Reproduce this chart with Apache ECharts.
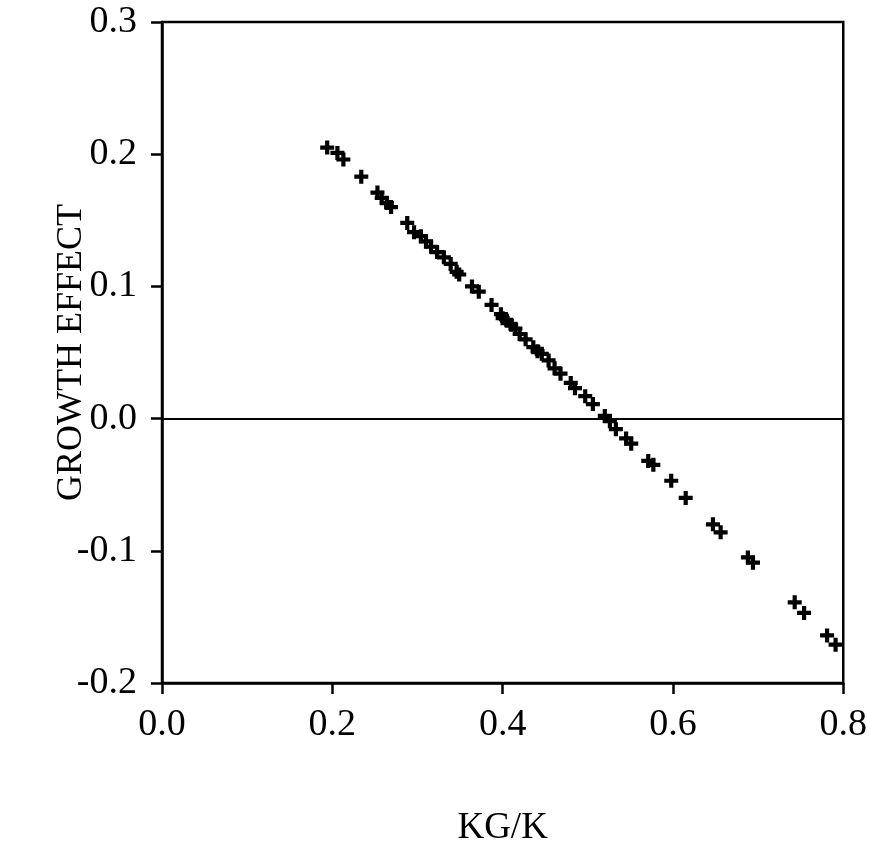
<!DOCTYPE html>
<html>
<head>
<meta charset="utf-8">
<script src="https://cdn.jsdelivr.net/npm/echarts@6/dist/echarts.min.js"></script>
<style>
html,body{margin:0;padding:0;background:#fff;}
#chart{width:870px;height:852px;}
</style>
</head>
<body>
<div id="chart"></div>
<script>
// KG/K values (x) and growth effect values (y)
var kgk = [0.194,0.206,0.213,0.234,0.253,0.258,0.264,0.269,0.288,0.296,0.304,0.310,0.316,0.323,0.331,0.339,0.346,0.349,0.364,0.372,0.387,0.398,0.400,0.405,0.410,0.415,0.420,0.427,0.436,0.441,0.446,0.454,0.461,0.468,0.480,0.485,0.497,0.506,0.520,0.526,0.533,0.545,0.551,0.571,0.577,0.598,0.615,0.647,0.656,0.688,0.694,0.743,0.754,0.781,0.791];
var growth = [0.205,0.201,0.196,0.183,0.171,0.167,0.163,0.160,0.148,0.141,0.138,0.134,0.130,0.126,0.122,0.117,0.111,0.109,0.100,0.096,0.086,0.079,0.076,0.074,0.071,0.068,0.064,0.060,0.054,0.051,0.049,0.044,0.038,0.034,0.027,0.023,0.017,0.011,0.002,-0.002,-0.008,-0.015,-0.019,-0.032,-0.035,-0.047,-0.060,-0.080,-0.086,-0.105,-0.109,-0.139,-0.147,-0.164,-0.171];
var xTicks = [0.0,0.2,0.4,0.6,0.8];
var yTicks = [-0.2,-0.1,0.0,0.1,0.2,0.3];

var points = kgk.map(function(x,i){return [x, growth[i]];});
var font = '"Liberation Serif","DejaVu Serif",serif';
var chart = echarts.init(document.getElementById('chart'), null, {renderer:'canvas'});
chart.setOption({
  animation:false,
  backgroundColor:'#fff',
  grid:{left:162,right:24,top:22,bottom:165,show:true,borderColor:'#000',borderWidth:2.5,backgroundColor:'transparent'},
  xAxis:{
    type:'value', min:xTicks[0], max:xTicks[xTicks.length-1], interval:0.2,
    name:'KG/K', nameLocation:'middle', nameGap:127, nameMoveOverlap:false,
    nameTextStyle:{fontFamily:font,fontSize:37,color:'#000'},
    axisLine:{show:true,onZero:false,lineStyle:{color:'#000',width:2.5}},
    axisTick:{show:true,inside:false,length:11,lineStyle:{color:'#000',width:2.5}},
    axisLabel:{margin:23,fontFamily:font,fontSize:38,color:'#000',formatter:function(v){return v.toFixed(1);}},
    splitLine:{show:false}
  },
  yAxis:{
    type:'value', min:yTicks[0], max:yTicks[yTicks.length-1], interval:0.1,
    name:'GROWTH EFFECT', nameLocation:'middle', nameGap:72, nameMoveOverlap:false,
    nameTextStyle:{fontFamily:font,fontSize:36,color:'#000'},
    axisLine:{show:true,onZero:false,lineStyle:{color:'#000',width:2.5}},
    axisTick:{show:true,inside:false,length:11,lineStyle:{color:'#000',width:2.5}},
    axisLabel:{margin:25,fontFamily:font,fontSize:38,color:'#000',formatter:function(v){return v.toFixed(1);}},
    splitLine:{show:false}
  },
  series:[{
    type:'scatter',
    data:points,
    symbol:'path://M3.5,0H6.5V3.5H10V6.5H6.5V10H3.5V6.5H0V3.5H3.5Z',
    symbolSize:14,
    itemStyle:{color:'#000',opacity:1},
    markLine:{
      silent:true, symbol:['none','none'],
      label:{show:false},
      lineStyle:{color:'#000',width:2,type:'solid'},
      data:[{yAxis:0}]
    }
  }]
});
</script>
</body>
</html>
